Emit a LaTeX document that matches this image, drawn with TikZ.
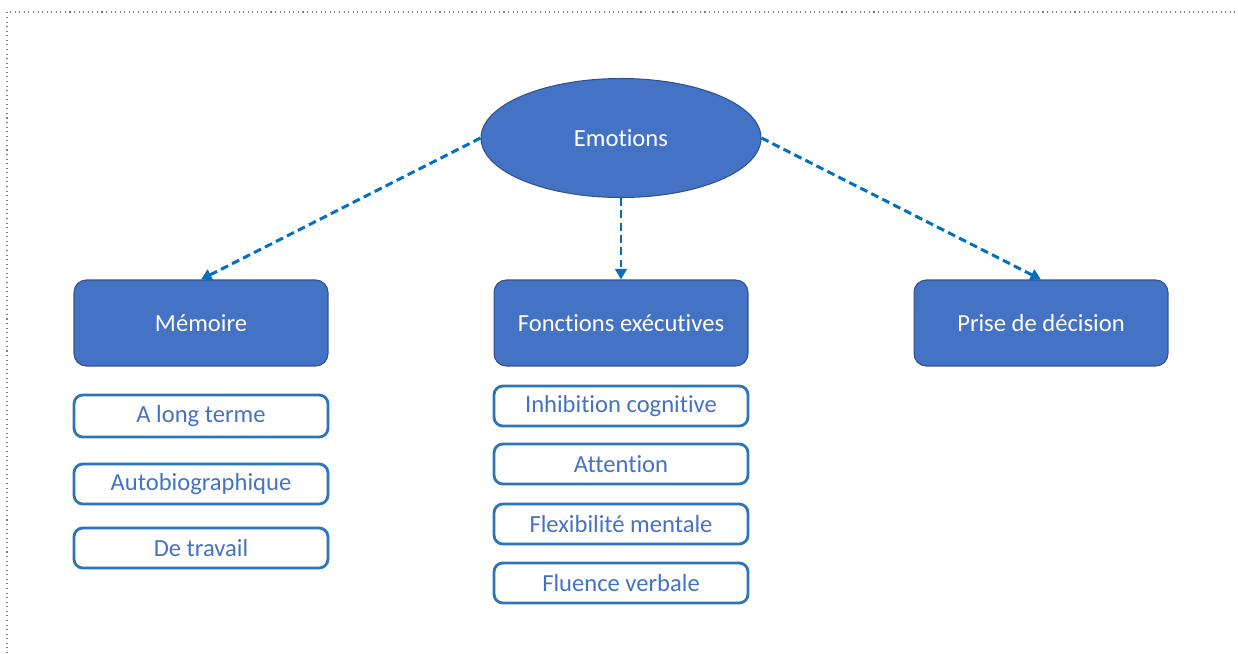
\documentclass[tikz,border=0pt]{standalone}
\usepackage{fontspec}
\setmainfont{Carlito}[Ligatures=NoCommon]
\usepackage{tikz}
\usetikzlibrary{shapes.geometric, arrows.meta}
\definecolor{boxblue}{HTML}{4472C4}
\definecolor{boxedge}{HTML}{2F528F}
\definecolor{linkblue}{HTML}{0070C0}
\definecolor{subedge}{HTML}{2E75B6}

\begin{document}
\begin{tikzpicture}[
        x=0.02cm, y=-0.02cm,
        font=\fontsize{14}{16}\selectfont,
        mainbox/.style={
            draw=boxedge, fill=boxblue, text=white, line width=0.6pt,
            rounded corners=7pt, minimum width=5.08cm, minimum height=1.72cm,
            },
        subbox/.style={
            draw=subedge, fill=white, text=boxblue, line width=1.6pt,
            rounded corners=5pt, minimum width=5.08cm, minimum height=0.8cm,
            },
        link/.style={
            draw=linkblue, line width=1.7pt, dash pattern=on 4.5pt off 2.5pt,
            -{Triangle[length=6pt, width=6.5pt]},
            },
        ]
        \useasboundingbox (0,0) rectangle (1238,653);
        \draw[gray, dotted, line width=0.6pt] (7,653) -- (7,12) -- (1238,12);

        \node[ellipse, draw=boxedge, fill=boxblue, text=white, line width=0.6pt,
              minimum width=5.6cm, minimum height=2.38cm] (emo) at (621,138) {Emotions};

        \node[mainbox] (mem) at (201,323) {Mémoire};
        \node[mainbox] (fex) at (621,323) {Fonctions exécutives};
        \node[mainbox] (pdd) at (1041,323) {Prise de décision};

        \node[subbox, minimum height=0.84cm] (mem1) at (201,416) {A long terme};
        \node[subbox] (mem2) at (201,484) {Autobiographique};
        \node[subbox] (mem3) at (201,548) {De travail};

        \node[subbox] (fex1) at (621,406) {Inhibition cognitive};
        \node[subbox] (fex2) at (621,464) {Attention};
        \node[subbox] (fex3) at (621,524) {Flexibilité mentale};
        \node[subbox] (fex4) at (621,583) {Fluence verbale};

        \path   (emo.west)  edge[link] (mem.north)
                (emo.south) edge[link] (fex.north)
                (emo.east)  edge[link] (pdd.north)
        ;
\end{tikzpicture}
\end{document}
